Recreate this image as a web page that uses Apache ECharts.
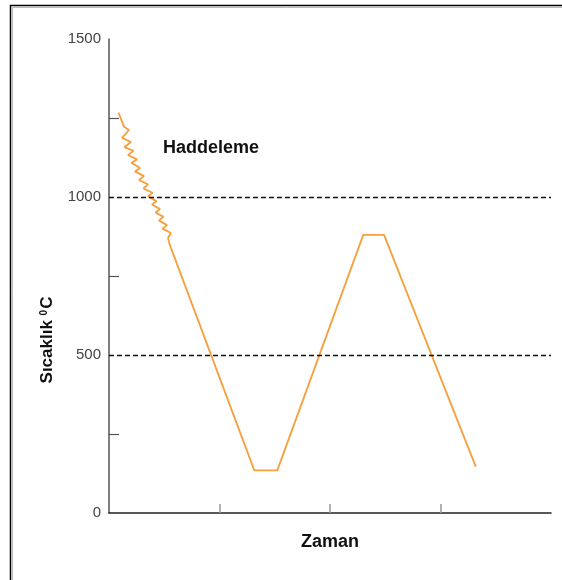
<!DOCTYPE html>
<html>
<head>
<meta charset="utf-8">
<script src="https://cdn.jsdelivr.net/npm/echarts@6/dist/echarts.min.js"></script>
<style>
html,body{margin:0;padding:0;background:#fff;}
#main{width:562px;height:580px;}
</style>
</head>
<body>
<div id="main"></div>
<script>
// Time (arbitrary units) and temperature (°C)
const timeValues = [0.086, 0.136, 0.181, 0.118, 0.199, 0.140, 0.222, 0.172, 0.253, 0.204, 0.281, 0.235, 0.317, 0.271, 0.353, 0.312, 0.394, 0.353, 0.430, 0.389, 0.462, 0.421, 0.493, 0.452, 0.525, 0.484, 0.561, 0.534, 0.548, 1.315, 1.523, 2.301, 2.489, 3.319];
const tempValues = [1267, 1222, 1212, 1187, 1174, 1158, 1146, 1133, 1119, 1108, 1092, 1081, 1066, 1054, 1040, 1027, 1013, 1002, 987, 976, 962, 951, 937, 926, 911, 900, 886, 870, 851, 135, 135, 880, 880, 147];
const yLabelValues = [0, 500, 1000, 1500];
const yTickValues = [250, 750, 1250];
const xTickValues = [1, 2, 3];
const refLines = [500, 1000];
const labelText = 'Haddeleme';
const xName = 'Zaman';

const chart = echarts.init(document.getElementById('main'));
const font = '"Liberation Sans", Arial, sans-serif';
chart.setOption({
  animation: false,
  backgroundColor: '#fff',
  grid: {left: 109, right: 11, top: 39, bottom: 67},
  xAxis: {
    type: 'value', min: 0, max: 4, interval: 1,
    axisLine: {show: true, lineStyle: {color: '#222', width: 1.5}},
    axisTick: {show: true, inside: true, length: 9, customValues: xTickValues, lineStyle: {color: '#999', width: 1.5}},
    axisLabel: {show: false},
    splitLine: {show: false},
    name: xName, nameLocation: 'middle', nameGap: 20,
    nameTextStyle: {fontFamily: font, fontWeight: 'bold', fontSize: 18, color: '#111'}
  },
  yAxis: {
    type: 'value', min: 0, max: 1500, interval: 250,
    axisLine: {show: true, lineStyle: {color: '#555', width: 1.5}},
    axisTick: {show: true, inside: true, length: 10, customValues: yTickValues, lineStyle: {color: '#555', width: 1.2}},
    axisLabel: {customValues: yLabelValues, formatter: v => String(v), fontFamily: font, fontSize: 15, color: '#444', margin: 8},
    splitLine: {show: false}
  },
  graphic: [
    {type: 'rect', shape: {x: 10.5, y: 5.5, width: 700, height: 700}, style: {fill: 'none', stroke: '#000', lineWidth: 1.5}, z: 100},
    {type: 'rect', shape: {x: 12.5, y: 7.5, width: 700, height: 700}, style: {fill: 'none', stroke: '#bbb', lineWidth: 1}, z: 100},
    {type: 'text', x: 163, y: 148, style: {text: labelText, fontFamily: font, fontWeight: 'bold', fontSize: 18, fill: '#111', textVerticalAlign: 'middle'}},
    {type: 'text', x: 47.5, y: 340, rotation: Math.PI / 2,
      style: {
        text: '{b|Sıcaklık }{s|0}{b|C}',
        textAlign: 'center', textVerticalAlign: 'middle',
        rich: {
          b: {fontFamily: font, fontWeight: 'bold', fontSize: 17, fill: '#111'},
          s: {fontFamily: font, fontWeight: 'bold', fontSize: 10, fill: '#111', verticalAlign: 'top', padding: [0, 1, 6, 0]}
        }
      }}
  ],
  series: [{
    type: 'line',
    data: timeValues.map((t, i) => [t, tempValues[i]]),
    showSymbol: false,
    lineStyle: {color: '#f5a03c', width: 1.8},
    markLine: {
      silent: true, symbol: 'none', label: {show: false},
      lineStyle: {color: '#111', type: [5, 3], width: 1.4},
      data: refLines.map(v => ({yAxis: v}))
    }
  }]
});
</script>
</body>
</html>
